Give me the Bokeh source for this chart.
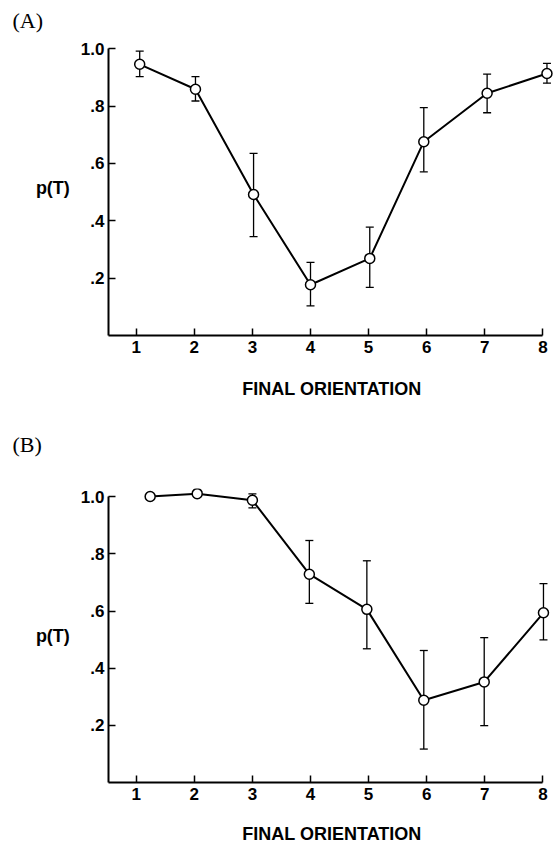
from bokeh.plotting import figure
from bokeh.models import (ColumnDataSource, Whisker, FixedTicker,
                          CustomJSTickFormatter, Range1d, TeeHead)
from bokeh.layouts import column
from bokeh.embed import file_html
from bokeh.resources import INLINE

# ---------------- data ----------------
orient_ticks = [1, 2, 3, 4, 5, 6, 7, 8]
p_ticks = [0.2, 0.4, 0.6, 0.8, 1.0]
x_title = "FINAL ORIENTATION"
y_title = "p(T)"

# Panel A
a_x = [1.06, 2.02, 3.02, 4.0, 5.02, 5.95, 7.04, 8.07]
a_p = [0.946, 0.859, 0.492, 0.177, 0.269, 0.676, 0.845, 0.914]
a_lo = [0.903, 0.818, 0.345, 0.103, 0.168, 0.571, 0.777, 0.880]
a_hi = [0.992, 0.903, 0.635, 0.255, 0.378, 0.795, 0.912, 0.949]

# Panel B (first two points have no visible error bar)
b_x = [1.24, 2.05, 3.0, 3.98, 4.97, 5.95, 6.99, 8.01]
b_p = [1.001, 1.011, 0.988, 0.729, 0.606, 0.288, 0.352, 0.594]
b_lo = [None, None, 0.961, 0.627, 0.468, 0.117, 0.199, 0.499]
b_hi = [None, None, 1.010, 0.847, 0.776, 0.462, 0.507, 0.696]

X0, X1 = 0.523, 8.217
Y0, Y1 = 0.0, 1.029
W = 559
BORDER_L, BORDER_R = 108, 4
FRAME_H = 297


def make_panel(tag, xs, ps, los, his, top, bottom, tag_standoff, xlab_standoff):
    p = figure(width=W, height=top + FRAME_H + bottom,
               x_range=Range1d(X0, X1), y_range=Range1d(Y0, Y1),
               min_border_left=BORDER_L, min_border_right=BORDER_R,
               min_border_top=top, min_border_bottom=bottom,
               output_backend="svg", toolbar_location=None,
               outline_line_color=None, background_fill_color="white",
               border_fill_color="white")
    p.grid.visible = False

    # panel tag as title
    p.title.text = tag
    p.title.text_font = "Liberation Serif"
    p.title.text_font_style = "normal"
    p.title.text_font_size = "22px"
    p.title.align = "left"
    p.title.vertical_align = "top"
    p.title.offset = -96
    p.title.standoff = tag_standoff
    p.title.text_color = "black"

    # axes
    for ax in (p.xaxis[0], p.yaxis[0]):
        ax.axis_line_width = 2
        ax.axis_line_color = "black"
        ax.major_tick_in = 7
        ax.major_tick_out = 0
        ax.major_tick_line_width = 1.5
        ax.major_tick_line_color = "black"
        ax.minor_tick_line_color = None
        ax.major_label_text_font = "Liberation Sans"
        ax.major_label_text_font_style = "bold"
        ax.major_label_text_font_size = "17px"
        ax.major_label_text_color = "black"
        ax.axis_label_text_font = "Liberation Sans"
        ax.axis_label_text_font_style = "bold"
        ax.axis_label_text_font_size = "18px"
        ax.axis_label_text_color = "black"
    p.xaxis.ticker = FixedTicker(ticks=orient_ticks)
    p.xaxis.bounds = (X0, orient_ticks[-1])
    p.xaxis.major_label_standoff = 5
    p.xaxis.axis_label = x_title
    p.xaxis.axis_label_standoff = xlab_standoff
    p.yaxis.ticker = FixedTicker(ticks=p_ticks)
    p.yaxis.bounds = (0, p_ticks[-1])
    p.yaxis.major_label_standoff = 4
    p.yaxis.formatter = CustomJSTickFormatter(
        code="var s = tick.toFixed(1); return tick > 0.95 ? s : s.substring(1);")
    p.yaxis.axis_label = y_title
    p.yaxis.axis_label_orientation = "horizontal"
    p.yaxis.axis_label_standoff = 8

    # error bars
    ex = [x for x, l in zip(xs, los) if l is not None]
    el = [l for l in los if l is not None]
    eh = [h for h in his if h is not None]
    esrc = ColumnDataSource(dict(x=ex, lo=el, hi=eh))
    p.add_layout(Whisker(source=esrc, base="x", lower="lo", upper="hi",
                         dimension="height", line_color="black", line_width=1.3,
                         lower_head=TeeHead(size=8, line_width=1.3, line_color="black"),
                         upper_head=TeeHead(size=8, line_width=1.3, line_color="black")))

    src = ColumnDataSource(dict(x=xs, p=ps))
    p.line("x", "p", source=src, line_color="black", line_width=2)
    p.scatter("x", "p", source=src, size=10, fill_color="white",
              line_color="black", line_width=1.5)
    return p


pa = make_panel("(A)", a_x, a_p, a_lo, a_hi, top=40, bottom=64,
                tag_standoff=12, xlab_standoff=23)
pb = make_panel("(B)", b_x, b_p, b_lo, b_hi, top=86, bottom=62,
                tag_standoff=60, xlab_standoff=21)

layout = column(pa, pb, spacing=0)
open("out.html", "w").write(file_html(layout, INLINE))
